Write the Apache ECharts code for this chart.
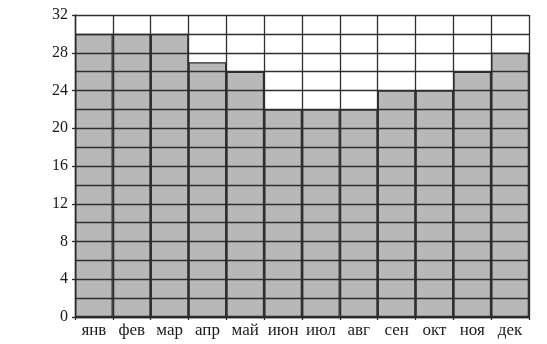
<!DOCTYPE html>
<html>
<head>
<meta charset="utf-8">
<script src="https://cdn.jsdelivr.net/npm/echarts@6/dist/echarts.min.js"></script>
<style>
html,body{margin:0;padding:0;background:#fff;}
#c{width:547px;height:344px;}
</style>
</head>
<body>
<div id="c"></div>
<script>
const months = ['янв','фев','мар','апр','май','июн','июл','авг','сен','окт','ноя','дек'];
const values = [30, 30, 30, 27, 26, 22, 22, 22, 24, 24, 26, 28];
const yMin = 0, yMax = 32, yStep = 4;

const chart = echarts.init(document.getElementById('c'));
const font = '"Liberation Serif", "DejaVu Serif", serif';
chart.setOption({
  animation: false,
  backgroundColor: '#fff',
  grid: {left: 75, right: 18, top: 15, bottom: 27},
  xAxis: {
    type: 'category',
    data: months,
    z: 10,
    boundaryGap: true,
    axisLine: {show: true, lineStyle: {color: '#2a2a2a', width: 1.4}},
    axisTick: {show: true, alignWithLabel: false, length: 3, lineStyle: {color: '#2a2a2a', width: 1.3}},
    splitLine: {show: true, interval: 0, lineStyle: {color: '#2e2e2e', width: 1.3}},
    axisLabel: {interval: 0, color: '#1a1a1a', fontSize: 17, fontFamily: font, margin: 5}
  },
  yAxis: {
    type: 'value',
    min: yMin, max: yMax, interval: yStep,
    z: 10,
    axisLine: {show: true, lineStyle: {color: '#2a2a2a', width: 1.4}},
    axisTick: {show: true, length: 3, lineStyle: {color: '#2a2a2a', width: 1.3}},
    minorTick: {show: false, splitNumber: 2},
    splitLine: {show: true, lineStyle: {color: '#2e2e2e', width: 1.3}},
    minorSplitLine: {show: true, lineStyle: {color: '#2e2e2e', width: 1.3}},
    axisLabel: {color: '#1a1a1a', fontSize: 16, fontFamily: font, margin: 7}
  },
  series: [{
    type: 'bar',
    data: values,
    barWidth: '100%',
    barCategoryGap: 0,
    itemStyle: {color: '#b8b8b8', borderColor: '#2e2e2e', borderWidth: 1.3}
  }]
});
</script>
</body>
</html>
